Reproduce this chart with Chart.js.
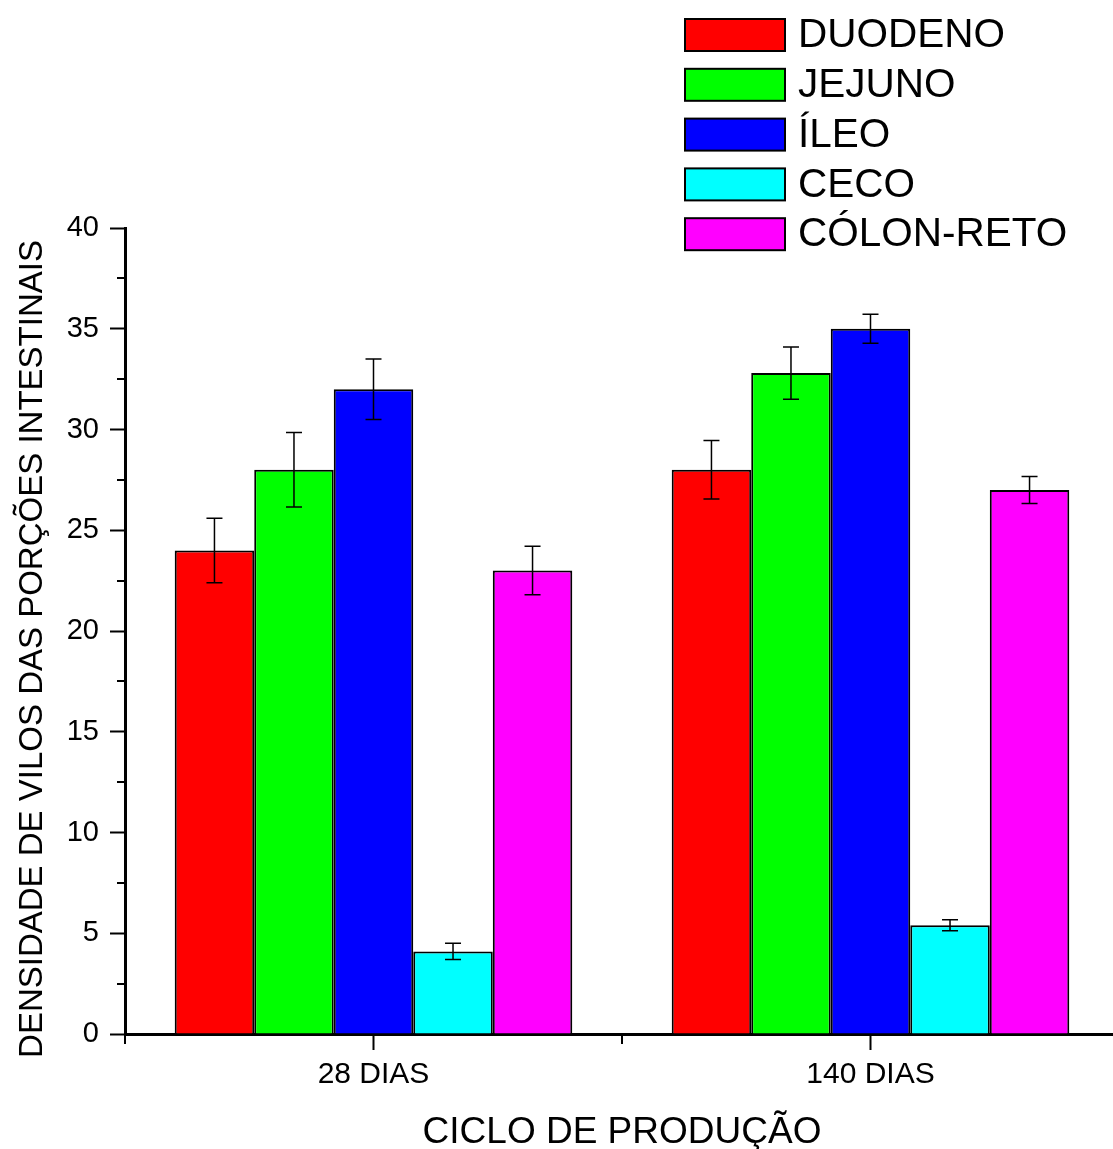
<!DOCTYPE html>
<html>
<head>
<meta charset="utf-8">
<title>Densidade de vilos</title>
<script src="https://cdn.jsdelivr.net/npm/chart.js@4.4.1/dist/chart.umd.min.js"></script>
<style>
  html, body { margin: 0; padding: 0; background: #fff; overflow: hidden; }
  #wrap { width: 1122px; height: 1149px; }
</style>
</head>
<body>
<div id="wrap"><canvas id="densityChart" width="1122" height="1149"></canvas></div>
<script>
// categories and series
var categories = ['28 DIAS', '140 DIAS'];
var seriesNames = ['DUODENO', 'JEJUNO', 'ÍLEO', 'CECO', 'CÓLON-RETO'];
var seriesColors = ['#ff0000', '#00ff00', '#0000ff', '#00ffff', '#ff00ff'];

var duodeno = [24, 28];
var jejuno = [28, 32.8];
var ileo = [32, 35];
var ceco = [4.1, 5.4];
var colonReto = [23, 27];

// standard errors
var duodenoErr = [1.6, 1.45];
var jejunoErr = [1.85, 1.3];
var ileoErr = [1.5, 0.72];
var cecoErr = [0.4, 0.27];
var colonRetoErr = [1.2, 0.67];

// axis ticks
var yMin = 0;
var yMax = 40;
var yStep = 5;
var yMinorStep = 2.5;

var axisTitleX = 'CICLO DE PRODUÇÃO';
var axisTitleY = 'DENSIDADE DE VILOS DAS PORÇÕES INTESTINAIS';

var FONT = '"Liberation Sans", Arial, Helvetica, sans-serif';

var seriesValues = [duodeno, jejuno, ileo, ceco, colonReto];
var seriesErrors = [duodenoErr, jejunoErr, ileoErr, cecoErr, colonRetoErr];

var datasets = seriesNames.map(function(name, i) {
  return {
    label: name,
    data: seriesValues[i],
    errors: seriesErrors[i],
    backgroundColor: seriesColors[i],
    borderColor: '#000',
    borderWidth: 2,
    categoryPercentage: 0.8,
    barPercentage: 1.0
  };
});

//whiskers on top of every bar
var errorBars = {
  id: 'errorBars',
  afterDatasetsDraw: function(chart) {
    var ctx = chart.ctx;
    var y = chart.scales.y;
    ctx.save();
    ctx.strokeStyle = '#000';
    ctx.lineWidth = 1.5;
    chart.data.datasets.forEach(function(ds, i) {
      var meta = chart.getDatasetMeta(i);
      meta.data.forEach(function(bar, j) {
        var v = ds.data[j];
        var e = ds.errors[j];
        var top = y.getPixelForValue(v + e);
        var bot = y.getPixelForValue(v - e);
        var cap = 8;
        ctx.beginPath();
        ctx.moveTo(bar.x, top);
        ctx.lineTo(bar.x, bot);
        ctx.moveTo(bar.x - cap, top);
        ctx.lineTo(bar.x + cap, top);
        ctx.moveTo(bar.x - cap, bot);
        ctx.lineTo(bar.x + cap, bot);
        ctx.stroke();
      });
    });
    ctx.restore();
  }
};

//minor ticks, axis titles and the legend block
var decorations = {
  id: 'decorations',
  afterDraw: function(chart) {
    var ctx = chart.ctx;
    var area = chart.chartArea;
    var y = chart.scales.y;
    ctx.save();
    ctx.strokeStyle = '#000';
    ctx.lineWidth = 2;

    //minor y ticks
    for (var v = yMin + yMinorStep; v < yMax; v += yStep) {
      var py = Math.round(y.getPixelForValue(v));
      ctx.beginPath();
      ctx.moveTo(area.left - 8, py);
      ctx.lineTo(area.left, py);
      ctx.stroke();
    }

    //minor x ticks at the category boundaries
    var step = (area.right - area.left) / categories.length;
    for (var k = 0; k <= categories.length; k++) {
      var px = Math.round(area.left + k * step);
      ctx.beginPath();
      ctx.moveTo(px, area.bottom);
      ctx.lineTo(px, area.bottom + 10);
      ctx.stroke();
    }

    //axis titles
    ctx.fillStyle = '#000';
    ctx.font = '37px ' + FONT;
    ctx.textAlign = 'center';
    ctx.textBaseline = 'alphabetic';
    ctx.fillText(axisTitleX, (area.left + area.right) / 2, 1143);

    ctx.save();
    ctx.translate(42, 649);
    ctx.rotate(-Math.PI / 2);
    ctx.font = '33px ' + FONT;
    ctx.fillText(axisTitleY, 0, 0);
    ctx.restore();

    //legend
    ctx.font = '40.5px ' + FONT;
    ctx.textAlign = 'left';
    ctx.textBaseline = 'middle';
    chart.data.datasets.forEach(function(ds, i) {
      var cy = 35 + i * 49.8;
      ctx.fillStyle = ds.backgroundColor;
      ctx.fillRect(685, cy - 16, 100, 32);
      ctx.lineWidth = 2;
      ctx.strokeRect(685, cy - 16, 100, 32);
      ctx.fillStyle = '#000';
      ctx.fillText(ds.label, 798, cy + 1);
    });
    ctx.restore();
  }
};

var chart = new Chart(document.getElementById('densityChart'), {
  type: 'bar',
  data: {
    labels: categories,
    datasets: datasets
  },
  options: {
    responsive: false,
    animation: false,
    layout: {
      padding: { top: 228, right: 3, left: 0, bottom: 0 }
    },
    plugins: {
      legend: { display: false },
      tooltip: { enabled: false }
    },
    scales: {
      x: {
        grid: {
          display: true,
          offset: false,
          drawOnChartArea: false,
          drawTicks: true,
          tickLength: 16,
          tickWidth: 2,
          tickColor: '#000'
        },
        border: { display: true, color: '#000', width: 3 },
        ticks: {
          color: '#000',
          padding: 7,
          font: { family: FONT, size: 30 }
        },
        afterFit: function(scale) { scale.height = 115; }
      },
      y: {
        min: yMin,
        max: yMax,
        grid: {
          display: true,
          drawOnChartArea: false,
          drawTicks: true,
          tickLength: 15,
          tickWidth: 2,
          tickColor: '#000'
        },
        border: { display: true, color: '#000', width: 3 },
        ticks: {
          stepSize: yStep,
          color: '#000',
          padding: 11,
          font: { family: FONT, size: 29 }
        },
        afterFit: function(scale) { scale.width = 125; }
      }
    }
  },
  plugins: [errorBars, decorations]
});
</script>
</body>
</html>
